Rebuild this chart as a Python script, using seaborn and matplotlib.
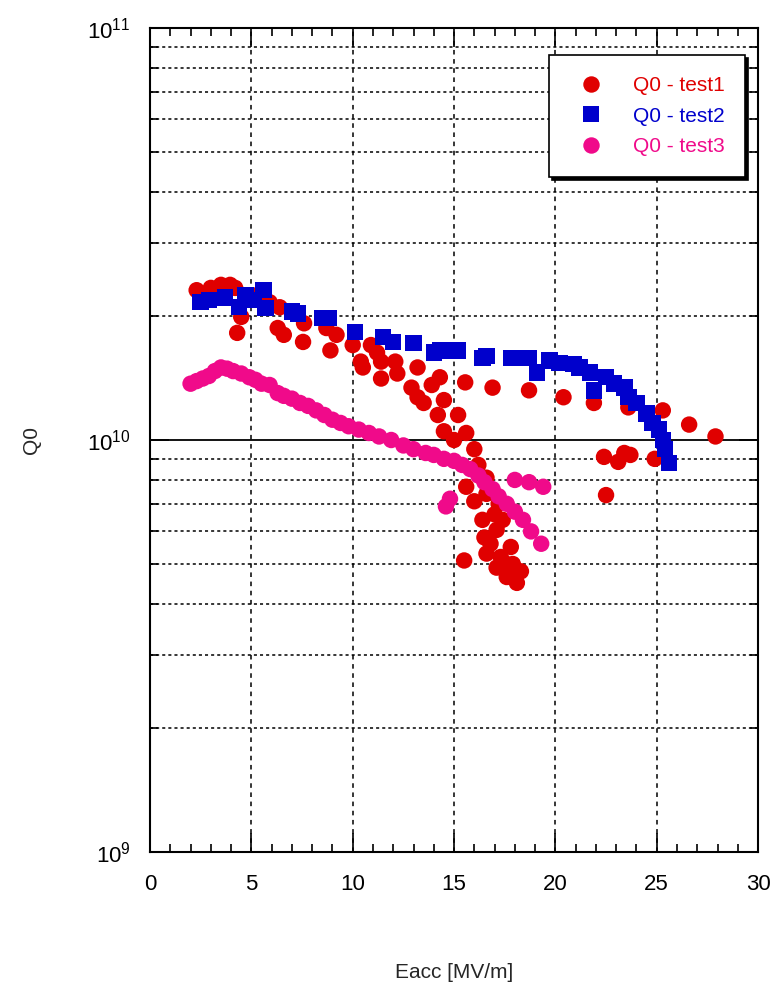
import numpy as np
import pandas as pd
import matplotlib
matplotlib.use("Agg")
import matplotlib.pyplot as plt
import seaborn as sns
from matplotlib.ticker import MultipleLocator, LogLocator, NullFormatter

# Q0 - test1 (red circles)
eacc_test1 = [2.3, 3.0, 3.5, 3.95, 4.2, 4.3, 4.5, 4.9, 5.3, 5.9, 6.4, 6.3, 6.6, 7.6, 7.55,
              8.7, 9.2, 8.9, 10.0, 10.4, 10.5, 10.9, 11.2, 11.4, 11.4, 12.1, 12.2, 13.2, 12.9,
              13.2, 13.5, 13.9, 14.3, 14.2, 14.5, 14.5, 15.0, 15.2, 15.55, 15.6, 16.0, 16.9,
              18.7, 20.4, 21.9, 23.6, 25.3, 26.6, 27.9, 22.4, 23.1, 23.4, 23.7, 24.9, 22.5,
              15.6, 16.0, 16.4, 16.5, 16.6, 17.1, 17.6, 18.1, 18.3, 17.9, 17.8, 17.4, 17.2,
              17.1, 16.6, 16.6, 15.5, 16.8, 17.3, 17.6, 18.0, 17.0, 16.2]
q0_test1 = [2.31, 2.34, 2.38, 2.38, 2.34, 1.82, 1.99, 2.20, 2.25, 2.16, 2.10, 1.87, 1.80, 1.92, 1.73,
            1.87, 1.80, 1.65, 1.70, 1.55, 1.50, 1.70, 1.63, 1.55, 1.41, 1.55, 1.45, 1.50, 1.34,
            1.27, 1.23, 1.36, 1.42, 1.15, 1.25, 1.05, 1.00, 1.15, 1.38, 1.04, 0.95, 1.34,
            1.32, 1.27, 1.23, 1.20, 1.18, 1.09, 1.02, 0.91, 0.885, 0.93, 0.92, 0.90, 0.735,
            0.77, 0.71, 0.64, 0.58, 0.53, 0.49, 0.465, 0.45, 0.48, 0.50, 0.55, 0.64, 0.70,
            0.605, 0.74, 0.81, 0.51, 0.56, 0.52, 0.50, 0.47, 0.66, 0.87]

# Q0 - test2 (blue squares)
eacc_test2 = [2.5, 2.9, 3.7, 4.4, 4.7, 5.1, 5.6, 5.7, 7.0, 7.3, 8.5, 8.8, 10.1, 11.5, 12.0,
              13.0, 14.0, 14.3, 14.8, 15.2, 16.4, 16.6, 17.8, 18.1, 18.7, 19.1, 19.7, 20.2,
              20.9, 21.2, 21.7, 21.9, 22.5, 22.9, 23.4, 23.6, 24.0, 24.5, 24.8, 25.1, 25.3,
              25.4, 25.6]
q0_test2 = [2.16, 2.19, 2.22, 2.10, 2.25, 2.19, 2.31, 2.09, 2.05, 2.03, 1.98, 1.98, 1.83, 1.78, 1.73,
            1.72, 1.63, 1.65, 1.65, 1.65, 1.58, 1.60, 1.58, 1.58, 1.58, 1.46, 1.56, 1.54,
            1.53, 1.50, 1.46, 1.32, 1.42, 1.37, 1.34, 1.27, 1.23, 1.16, 1.10, 1.06, 1.00,
            0.95, 0.88]

# Q0 - test3 (pink circles)
eacc_test3 = [2.0, 2.3, 2.6, 2.9, 3.2, 3.5, 3.8, 4.1, 4.5, 4.9, 5.2, 5.5, 5.9, 6.3, 6.6, 7.0,
              7.4, 7.8, 8.2, 8.6, 9.0, 9.4, 9.8, 10.3, 10.8, 11.3, 11.9, 12.5, 13.0, 13.6,
              14.0, 14.5, 15.0, 15.4, 15.8, 16.2, 16.5, 16.9, 17.2, 17.6, 18.0, 18.4, 18.8,
              19.3, 14.6, 14.8, 18.0, 18.7, 19.4]
q0_test3 = [1.37, 1.39, 1.41, 1.43, 1.47, 1.50, 1.49, 1.47, 1.45, 1.42, 1.40, 1.37, 1.36, 1.30,
            1.28, 1.26, 1.23, 1.21, 1.18, 1.15, 1.12, 1.10, 1.08, 1.06, 1.04, 1.02, 1.00, 0.97,
            0.95, 0.93, 0.92, 0.90, 0.89, 0.87, 0.85, 0.82, 0.79, 0.76, 0.73, 0.70, 0.67, 0.64,
            0.60, 0.56, 0.69, 0.72, 0.80, 0.79, 0.77]

labels = ["Q0 - test1", "Q0 - test2", "Q0 - test3"]
colors = {"Q0 - test1": "#E00000", "Q0 - test2": "#0000CC", "Q0 - test3": "#F00A8A"}
markers = {"Q0 - test1": "o", "Q0 - test2": "s", "Q0 - test3": "o"}

# 데이터프레임 (단위: 1e10)
df = pd.concat([
    pd.DataFrame({"Eacc": eacc_test1, "Q0": np.array(q0_test1) * 1e10, "series": labels[0]}),
    pd.DataFrame({"Eacc": eacc_test2, "Q0": np.array(q0_test2) * 1e10, "series": labels[1]}),
    pd.DataFrame({"Eacc": eacc_test3, "Q0": np.array(q0_test3) * 1e10, "series": labels[2]}),
], ignore_index=True)

sns.set_style("ticks")
plt.rcParams['font.family'] = ['Liberation Sans', 'DejaVu Sans']
plt.rcParams['mathtext.fontset'] = 'custom'
plt.rcParams['mathtext.rm'] = 'Liberation Sans'
plt.rcParams['axes.unicode_minus'] = False

fig = plt.figure(figsize=(7.71, 9.91), dpi=100)
ax = fig.add_axes([0.1946, 0.1403, 0.7886, 0.8314])

sns.scatterplot(data=df, x="Eacc", y="Q0", hue="series", style="series",
                palette=colors, markers=markers, s=140, linewidth=0, ax=ax)

ax.set_yscale("log")
ax.set_xlim(0, 30)
ax.set_ylim(1e9, 1e11)

ax.xaxis.set_major_locator(MultipleLocator(5))
ax.xaxis.set_minor_locator(MultipleLocator(1))
ax.yaxis.set_major_locator(LogLocator(base=10, numticks=5))
ax.yaxis.set_minor_locator(LogLocator(base=10, subs=np.arange(2, 10), numticks=20))
ax.yaxis.set_minor_formatter(NullFormatter())

# 격자
ax.grid(which="major", axis="x", color="black", linestyle=(0, (3, 3)), linewidth=1.1)
ax.grid(which="major", axis="y", color="black", linestyle="-", linewidth=1.3)
ax.grid(which="minor", axis="y", color="black", linestyle=(0, (2, 2)), linewidth=1.1)
ax.set_axisbelow(True)

ax.tick_params(which="both", direction="in", top=True, right=True, colors="black", width=1.2)
ax.tick_params(which="major", length=14, labelsize=16)
ax.tick_params(which="minor", length=6)
ax.tick_params(axis="x", which="major", pad=16)
ax.tick_params(axis="y", which="major", pad=14)
for sp in ax.spines.values():
    sp.set_color("black")
    sp.set_linewidth(1.5)

ax.set_xlabel("Eacc [MV/m]", fontsize=15)
ax.set_ylabel("Q0", fontsize=15)
ax.xaxis.set_label_coords(0.5, -0.135)
ax.yaxis.set_label_coords(-0.18, 0.5)

leg = ax.legend(loc="upper right", bbox_to_anchor=(0.979, 0.967), borderaxespad=0,
                fancybox=False, edgecolor="black", framealpha=1, fontsize=15,
                shadow={"color": "black", "alpha": 1}, borderpad=1.0, handletextpad=1.0,
                markerscale=1.0, labelspacing=0.55)
leg.get_frame().set_linewidth(1.2)
for txt, lab in zip(leg.get_texts(), labels):
    txt.set_color(colors[lab])

fig.savefig("out.png", dpi=100)
